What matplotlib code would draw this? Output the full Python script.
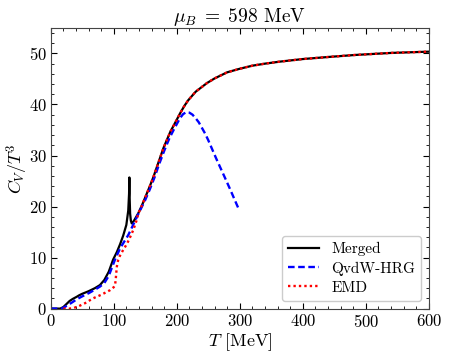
import matplotlib
matplotlib.use("Agg")
import matplotlib.pyplot as plt
from matplotlib.ticker import MultipleLocator

plt.rcParams['font.family'] = 'serif'
plt.rcParams['font.serif'] = ['cmr10', 'DejaVu Serif']
plt.rcParams['mathtext.fontset'] = 'cm'
plt.rcParams['axes.formatter.use_mathtext'] = True
plt.rcParams['axes.unicode_minus'] = False

# Merged
T_merged = [0, 15, 20, 25, 30, 35, 41, 45, 50, 60, 70, 78, 85, 92, 99, 105, 110, 115, 120, 123, 124.3, 124.8,
            125.3, 126.0, 127.2, 128.5, 132, 139, 145, 150, 157, 163, 170, 179, 190, 200, 205, 212, 218,
            230, 248, 260, 280, 300, 320, 340, 364, 400, 440, 483, 540, 600]
C_merged = [0, 0, 0.3, 0.9, 1.5, 1.9, 2.3, 2.6, 2.9, 3.4, 4.0, 4.6, 5.6, 7.2, 9.6, 11.1, 12.6, 14.3, 16.4, 19.2, 22.5, 25.7,
            21.5, 18.6, 17.2, 16.7, 17.2, 18.7, 20.3, 21.8, 23.9, 25.8, 28.3, 31.5, 34.7, 37.0, 38.2, 39.7, 40.8,
            42.5, 44.2, 45.1, 46.3, 47.0, 47.6, 48.0, 48.4, 48.9, 49.3, 49.7, 50.1, 50.35]

# QvdW-HRG
T_qvdw = [0, 17, 22, 30, 35, 41, 50, 60, 70, 78, 85, 92, 102, 110, 123, 130, 140, 150, 157, 165, 172, 180, 188, 195,
          205, 210, 215, 220, 225, 230, 235, 240, 245, 250, 257, 263, 270, 277, 285, 292, 298]
C_qvdw = [0, 0, 0.3, 0.9, 1.3, 1.8, 2.4, 3.0, 3.7, 4.3, 5.0, 6.4, 9.6, 11.8, 14.4, 16.2, 18.8, 21.3, 23.3, 25.8, 28.3, 30.9, 33.3, 35.0,
          37.3, 38.1, 38.5, 38.4, 38.0, 37.3, 36.5, 35.4, 34.3, 33.0, 31.0, 29.3, 27.4, 25.5, 23.3, 21.3, 19.6]

# EMD
T_emd = [20, 30, 36, 45, 55, 67, 80, 94, 100, 102, 103, 104, 105, 107, 110, 115, 121, 126, 131, 136, 139,
         145, 150, 157, 163, 170, 179, 190, 200, 205, 212, 218,
         230, 248, 260, 280, 300, 320, 340, 364, 400, 440, 483, 540, 600]
C_emd = [0, 0.0, 0.1, 0.5, 1.1, 2.0, 2.7, 3.6, 4.2, 4.6, 5.5, 7.0, 8.3, 9.5, 10.4, 11.5, 12.7, 14.0, 15.4, 17.2, 18.6,
         20.3, 21.8, 23.9, 25.8, 28.3, 31.5, 34.7, 37.0, 38.2, 39.7, 40.8,
         42.5, 44.2, 45.1, 46.3, 47.0, 47.6, 48.0, 48.4, 48.9, 49.3, 49.7, 50.1, 50.35]

fig = plt.figure(figsize=(4.49, 3.58), dpi=100)
ax = fig.add_axes([0.113, 0.138, 0.842, 0.784])

ax.plot(T_merged, C_merged, color='black', lw=1.6, label='Merged')
ax.plot(T_qvdw, C_qvdw, color='blue', lw=1.7, ls=(0, (2.8, 1.5)), label='QvdW-HRG')
ax.plot(T_emd, C_emd, color='red', lw=1.7, ls=(0, (1, 1.3)), label='EMD')

ax.set_xlim(0, 600)
ax.set_ylim(0, 55)
ax.xaxis.set_major_locator(MultipleLocator(100))
ax.xaxis.set_minor_locator(MultipleLocator(20))
ax.yaxis.set_major_locator(MultipleLocator(10))
ax.yaxis.set_minor_locator(MultipleLocator(2))
ax.tick_params(which='both', direction='in', top=True, right=True, labelsize=12)
ax.tick_params(which='major', length=4, pad=3)
ax.tick_params(which='minor', length=2)
for s in ax.spines.values():
    s.set_color('#444444')

ax.set_xlabel(r'$T$ [MeV]', fontsize=13, labelpad=1)
ax.set_ylabel(r'$C_V/T^3$', fontsize=13, labelpad=-1)
ax.set_title(r'$\mu_B \;=\; 598$ MeV', fontsize=14, pad=3)

ax.legend(loc='lower right', fontsize=11, frameon=True, fancybox=True, edgecolor='#cccccc', framealpha=1,
          handlelength=2.0, labelspacing=0.35, borderpad=0.4, borderaxespad=0.5)

fig.savefig('out.png', dpi=100)
